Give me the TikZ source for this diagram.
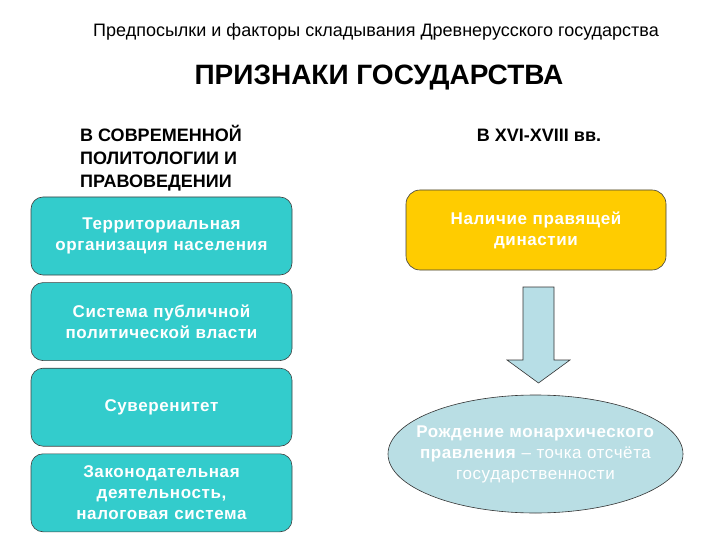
\documentclass[tikz,border=0pt]{standalone}
\usepackage{fontspec}
\setmainfont{Liberation Sans}
\newfontfamily\spacedfont[LetterSpace=3.5]{Liberation Sans}
\usetikzlibrary{shapes.geometric, positioning}
\usepackage{xcolor}
\definecolor{feature}{HTML}{33CCCC}
\definecolor{dynasty}{HTML}{FFCC00}
\definecolor{birth}{HTML}{B9DEE4}
\definecolor{pointer}{HTML}{B7DEE6}
\tikzset{
    heading/.style={
        font=\fontsize{18}{23}\selectfont\bfseries, align=left, inner sep=0pt
    },
    modernbox/.style={
        rectangle, rounded corners=12pt, minimum width=261pt, minimum height=78pt,
        text width=250pt, align=center, fill=feature, draw=black!75, line width=0.6pt,
        text=white, font=\spacedfont\fontsize{17}{21}\selectfont\bfseries
    },
    dynbox/.style={
        rectangle, rounded corners=14pt, minimum width=260pt, minimum height=80pt,
        text width=250pt, align=center, fill=dynasty, draw=black!75, line width=0.6pt,
        text=white, font=\spacedfont\fontsize{17}{21}\selectfont\bfseries
    },
    birthshape/.style={
        ellipse, minimum width=295pt, minimum height=118pt, inner sep=0pt,
        fill=birth, draw=black!80, line width=0.6pt
    },
    birthtext/.style={
        align=center, text=white, font=\spacedfont\fontsize{17}{21}\selectfont
    },
    pointer/.style={
        fill=pointer, draw=black!80, line width=0.6pt, line join=miter
    }
}

\begin{document}
\begin{tikzpicture}[x=1pt, y=-1pt]

    \fill[white] (0,0) rectangle (720,540);
    \useasboundingbox (0,0) rectangle (720,540);

    \node[font=\fontsize{18}{20}\selectfont] (pre) at (376,32)
        {Предпосылки и факторы складывания Древнерусского государства};
    \node[font=\fontsize{28}{30}\selectfont\bfseries] (signs) at (379,78)
        {ПРИЗНАКИ ГОСУДАРСТВА};

    \node[heading, anchor=west] (modern) at (80,158)
        {В СОВРЕМЕННОЙ\\ПОЛИТОЛОГИИ И\\ПРАВОВЕДЕНИИ};
    \node[heading] (era) at (539,135) {В XVI-XVIII вв.};

    \node[modernbox]                     (terr)  at (161.5,236) {Территориальная\\организация населения};
    \node[modernbox, below=7pt of terr]  (power) {Система публичной\\политической власти};
    \node[modernbox, below=7pt of power] (sov)   {Суверенитет};
    \node[modernbox, below=7pt of sov]   (law)   {Законодательная\\деятельность,\\налоговая система};

    \node[dynbox] (dyn) at (536,230) {Наличие правящей\\династии};

    \node[birthshape] (birth) at (535.5,454) {};
    \node[birthtext] (birthlbl) at (birth.center)
        {\textbf{Рождение монархического}\\\textbf{правления} – точка отсчёта\\государственности};

    % block arrow between the dynasty box and the ellipse
    \draw[pointer] (523,287) -- (554,287) -- (554,360) -- (570,360)
        -- (538.5,383) -- (507,360) -- (523,360) -- cycle;

\end{tikzpicture}
\end{document}
